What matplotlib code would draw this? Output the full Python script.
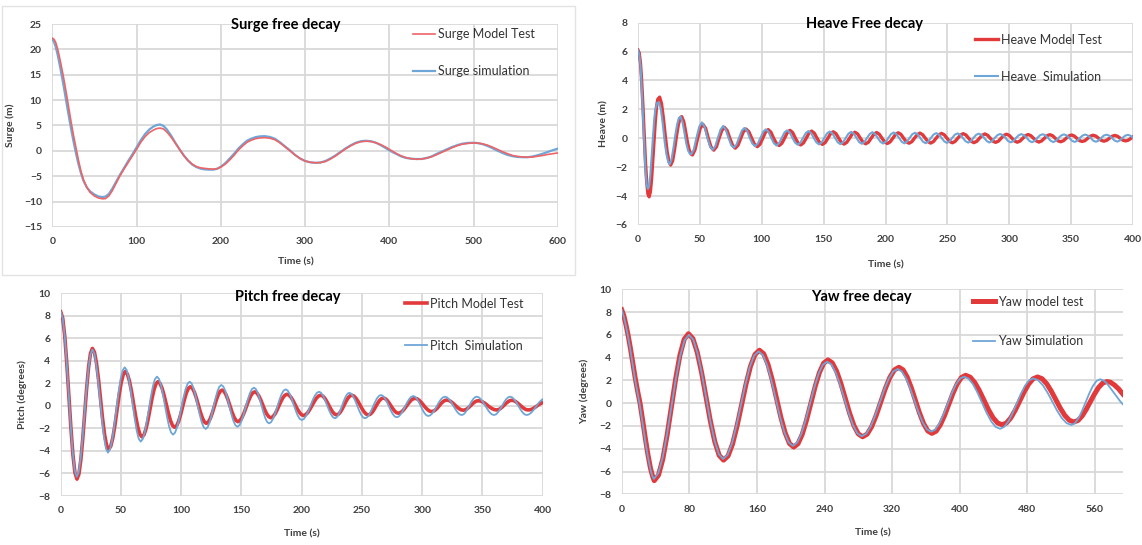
import matplotlib
matplotlib.use("Agg")
import matplotlib.pyplot as plt
from matplotlib.patches import Rectangle

plt.rcParams['font.family'] = ['Lato', 'DejaVu Sans']

# ---------------- DATA ----------------
# Surge free decay (both series sampled at the same times)
surge_t = [0, 2, 4, 6, 8, 10, 13, 16, 19, 22, 25, 28, 31, 34, 37, 41, 45, 50, 55, 60, 63, 67, 71, 75, 80,
           85, 90, 95, 100, 105, 110, 115, 120, 124, 128, 132, 136, 141, 146, 151, 156, 161, 166, 171, 176,
           181, 186, 191, 196, 201, 206, 211, 216, 221, 226, 231, 236, 241, 246, 252, 258, 264, 270, 276, 282,
           288, 294, 300, 306, 312, 318, 324, 330, 336, 342, 348, 354, 360, 366, 372, 378, 384, 390, 396, 402,
           408, 414, 420, 426, 432, 438, 444, 450, 456, 462, 468, 474, 480, 486, 492, 498, 504, 510, 516, 522,
           528, 534, 540, 546, 552, 558, 564, 570, 576, 582, 588, 594, 600]
surge_test_y = [22.2, 22.0, 21.4, 20.3, 18.9, 17.3,
                14.8, 12.0, 9.0, 6.0, 3.2, 0.7, -1.8, -4.0, -5.7,
                -7.2, -8.2, -8.9, -9.3, -9.45, -9.4, -8.9, -7.9, -6.6, -5.0,
                -3.6, -2.3, -1.0, 0.3, 1.7, 2.8, 3.6, 4.1,
                4.4, 4.5, 4.3, 3.7,
                2.7, 1.5, 0.3, -0.9, -1.9, -2.6, -3.1, -3.35, -3.45, -3.55, -3.6, -3.5, -3.1, -2.5, -1.7, -0.8,
                0.2, 1.0, 1.7, 2.1, 2.4, 2.55,
                2.6, 2.5, 2.2, 1.6, 0.8, 0.0, -0.8, -1.5, -2.0, -2.25, -2.35, -2.3, -2.1, -1.6, -1.0, -0.3, 0.4,
                1.0, 1.5, 1.8, 1.9, 1.85, 1.6, 1.2, 0.7, 0.1, -0.5, -1.0, -1.35, -1.55, -1.65, -1.6, -1.45, -1.15,
                -0.75, -0.3, 0.15, 0.6, 1.0, 1.3, 1.45, 1.55, 1.55, 1.4, 1.15, 0.75, 0.3, -0.15, -0.55, -0.9,
                -1.1, -1.2, -1.25, -1.2, -1.05, -0.9, -0.7, -0.55, -0.4]
surge_sim_y = [22.0, 21.5, 20.5, 19.2, 17.6, 15.9,
               13.2, 10.3, 7.4, 4.6, 2.0, -0.4, -2.6, -4.4, -5.9,
               -7.2, -8.0, -8.6, -9.0, -9.1, -9.0, -8.5, -7.5, -6.3, -4.8,
               -3.4, -2.0, -0.7, 0.7, 2.1, 3.3, 4.2, 4.8,
               5.1, 5.2, 4.9, 4.2,
               3.0, 1.6, 0.3, -0.9, -1.9, -2.7, -3.2, -3.5, -3.65, -3.7, -3.7, -3.5, -3.0, -2.3, -1.4, -0.5,
               0.5, 1.3, 2.0, 2.4, 2.7, 2.85,
               2.9, 2.75, 2.4, 1.7, 0.9, 0.1, -0.8, -1.5, -2.0, -2.25, -2.35, -2.3, -2.0, -1.5, -0.9, -0.2, 0.5,
               1.1, 1.6, 1.9, 2.0, 1.9, 1.6, 1.1, 0.5, -0.1, -0.6, -1.1, -1.4, -1.55, -1.6, -1.6, -1.4, -1.1,
               -0.6, -0.15, 0.3, 0.75, 1.1, 1.4, 1.55, 1.6, 1.55, 1.35, 1.0, 0.55, 0.05, -0.4, -0.8,
               -1.05, -1.2, -1.25, -1.25, -1.1, -0.85, -0.55, -0.2, 0.15, 0.45]

# Heave free decay
heave_test_t = [0, 1, 2, 3, 4, 5, 6, 7, 8, 9, 10, 11, 12, 13, 14, 15, 16, 17.5, 19, 20.5, 22, 23.5, 25, 26.4, 28,
                29.5, 31, 32.5, 34, 35.3, 37, 38.5, 40, 41.5, 43, 44, 46, 48.2, 50.3, 52.4, 54.6, 56.8, 59, 61.2,
                63.4, 65.5, 67.7, 69.8, 72, 74.2, 76.4, 78.6,
                80.8, 83.0, 85.1, 87.3, 89.6, 91.9, 94.1, 96.4, 98.6, 100.8, 103.0, 105.2,
                107.4, 109.6, 111.8, 114.0, 116.2, 118.4, 120.6, 122.8, 125.0, 127.2, 129.3, 131.5,
                133.7, 135.9, 138.1, 140.3, 142.5, 144.7, 146.8, 149.0, 151.2, 153.4, 155.6, 157.8,
                160.0, 162.2, 164.3, 166.5, 168.7, 170.9, 173.1, 175.3, 177.5, 179.7, 181.8, 184.0,
                186.2, 188.4, 190.6, 192.8, 195.0, 197.2, 199.3, 201.5, 203.7, 205.9, 208.1, 210.3,
                212.5, 214.7, 216.8, 219.0, 221.2, 223.4, 225.6, 227.8, 230.0, 232.2, 234.3, 236.5,
                238.7, 240.9, 243.1, 245.3, 247.5, 249.7, 251.8, 254.0, 256.2, 258.4, 260.6, 262.8,
                265.0, 267.2, 269.3, 271.5, 273.7, 275.9, 278.1, 280.3, 282.5, 284.7, 286.8, 289.0,
                291.2, 293.4, 295.6, 297.8, 300.0, 302.2, 304.3, 306.5, 308.7, 310.9, 313.1, 315.3,
                317.5, 319.7, 321.8, 324.0, 326.2, 328.4, 330.6, 332.8, 335.0, 337.2, 339.3, 341.5,
                343.7, 345.9, 348.1, 350.3, 352.5, 354.7, 356.8, 359.0, 361.2, 363.4, 365.6, 367.8,
                370.0, 372.2, 374.3, 376.5, 378.7, 380.9, 383.1, 385.3, 387.5, 389.7, 391.8, 394.0,
                396.2, 398.4, 400]
heave_test_y = [6.1, 5.9, 5.2, 3.9, 2.2, 0.3, -1.6, -3.0, -3.85, -4.05, -3.7, -2.8, -1.5, -0.1, 1.2, 2.2, 2.7, 2.85,
                2.4, 1.4, 0.2, -0.9, -1.6, -1.85, -1.55, -0.8, 0.1, 0.9, 1.4, 1.5, 1.15, 0.45, -0.3, -0.85, -1.1,
                -1.15, -0.8, 0.0, 0.7, 0.97, 0.7, 0.0, -0.6, -0.82, -0.58, 0.0, 0.54, 0.76, 0.54, 0.0, -0.48, -0.68,
                -0.48, 0.0, 0.45, 0.64, 0.45, 0.0, -0.41, -0.58, -0.41, 0.0, 0.42, 0.6,
                0.42, 0.0, -0.35, -0.5, -0.35, 0.0, 0.39, 0.55, 0.39, 0.0, -0.32, -0.46,
                -0.32, 0.0, 0.35, 0.5, 0.35, 0.0, -0.3, -0.42, -0.3, 0.0, 0.32, 0.45,
                0.32, 0.0, -0.28, -0.4, -0.28, 0.0, 0.3, 0.42, 0.3, 0.0, -0.27, -0.38,
                -0.27, 0.0, 0.28, 0.4, 0.28, 0.0, -0.25, -0.36, -0.25, 0.0, 0.27, 0.38,
                0.27, 0.0, -0.24, -0.34, -0.24, 0.0, 0.25, 0.36, 0.25, 0.0, -0.23, -0.33,
                -0.23, 0.0, 0.24, 0.34, 0.24, 0.0, -0.22, -0.31, -0.22, 0.0, 0.23, 0.32,
                0.23, 0.0, -0.21, -0.3, -0.21, 0.0, 0.21, 0.3, 0.21, 0.0, -0.2, -0.28,
                -0.2, 0.0, 0.2, 0.28, 0.2, 0.0, -0.19, -0.27, -0.19, 0.0, 0.18, 0.26,
                0.18, 0.0, -0.18, -0.26, -0.18, 0.0, 0.18, 0.25, 0.18, 0.0, -0.17, -0.24,
                -0.17, 0.0, 0.16, 0.23, 0.16, 0.0, -0.16, -0.22, -0.16, 0.0, 0.15, 0.21,
                0.15, 0.0, -0.14, -0.2, -0.14, 0.0, 0.14, 0.2, 0.14, 0.0, -0.13, -0.18,
                -0.13, 0.0, 0.1]
heave_sim_t = [0, 1, 2, 3, 4, 5, 6, 7, 8, 9, 10, 11, 12, 13, 14, 15.5, 17, 18.5, 20, 21.5, 23, 24.5, 25.6, 27, 28.6,
               30.1, 31.6, 33, 34.4, 36, 37.5, 39, 40.5, 42, 43, 45.1, 47.3, 49.5, 51.6, 53.8, 56, 58.2, 60.3, 62.4,
               64.6, 66.7, 68.8, 70.9, 73.1, 75.3, 77.4,
               79.55, 81.7, 83.85, 86.0, 88.15, 90.3, 92.45, 94.6, 96.8, 99.0, 101.15, 103.3,
               105.45, 107.6, 109.75, 111.9, 114.05, 116.2, 118.35, 120.5, 122.65, 124.8, 126.95, 129.1,
               131.25, 133.4, 135.55, 137.7, 139.85, 142.0, 144.15, 146.3, 148.45, 150.6, 152.75, 154.9,
               157.05, 159.2, 161.35, 163.5, 165.7, 167.9, 170.05, 172.2, 174.35, 176.5, 178.65, 180.8,
               182.95, 185.1, 187.25, 189.4, 191.55, 193.7, 195.85, 198.0, 200.15, 202.3, 204.45, 206.6,
               208.75, 210.9, 213.05, 215.2, 217.35, 219.5, 221.65, 223.8, 225.95, 228.1, 230.25, 232.4,
               234.55, 236.7, 238.85, 241.0, 243.15, 245.3, 247.45, 249.6, 251.75, 253.9, 256.05, 258.2,
               260.35, 262.5, 264.65, 266.8, 268.95, 271.1, 273.25, 275.4, 277.55, 279.7, 281.85, 284.0,
               286.15, 288.3, 290.45, 292.6, 294.75, 296.9, 299.05, 301.2, 303.35, 305.5, 307.65, 309.8,
               311.95, 314.1, 316.25, 318.4, 320.55, 322.7, 324.85, 327.0, 329.15, 331.3, 333.45, 335.6,
               337.75, 339.9, 342.05, 344.2, 346.35, 348.5, 350.65, 352.8, 354.95, 357.1, 359.25, 361.4,
               363.55, 365.7, 367.85, 370.0, 372.15, 374.3, 376.45, 378.6, 380.75, 382.9, 385.05, 387.2,
               389.35, 391.5, 393.65, 395.8, 397.9, 400]
heave_sim_y = [6.1, 5.8, 5.0, 3.5, 1.6, -0.4, -2.2, -3.2, -3.5, -3.3, -2.5, -1.3, 0.0, 1.2, 2.0, 2.45, 2.5, 2.0, 1.0,
               -0.2, -1.1, -1.65, -1.8, -1.5, -0.7, 0.2, 0.95, 1.4, 1.5, 1.1, 0.4, -0.35, -0.85, -1.08, -1.1, -0.78,
               0.05, 0.8, 1.1, 0.8, 0.05, -0.56, -0.8, -0.56, 0.05, 0.6, 0.85, 0.6, 0.05, -0.46, -0.65,
               -0.44, 0.03, 0.52, 0.72, 0.52, 0.03, -0.37, -0.55, -0.37, 0.03, 0.45, 0.62,
               0.45, 0.03, -0.33, -0.5, -0.33, 0.03, 0.4, 0.55, 0.4, 0.03, -0.3, -0.45,
               -0.3, 0.03, 0.36, 0.5, 0.36, 0.03, -0.28, -0.42, -0.28, 0.03, 0.34, 0.47,
               0.34, 0.03, -0.27, -0.4, -0.27, 0.03, 0.32, 0.44, 0.32, 0.03, -0.25, -0.38,
               -0.25, 0.03, 0.3, 0.42, 0.3, 0.03, -0.24, -0.36, -0.24, 0.03, 0.29, 0.4,
               0.29, 0.03, -0.23, -0.35, -0.23, 0.03, 0.28, 0.38, 0.28, 0.03, -0.23, -0.34,
               -0.23, 0.03, 0.26, 0.36, 0.26, 0.03, -0.21, -0.32, -0.21, 0.03, 0.25, 0.34,
               0.25, 0.03, -0.2, -0.3, -0.2, 0.03, 0.24, 0.32, 0.24, 0.03, -0.19, -0.29,
               -0.19, 0.03, 0.22, 0.3, 0.22, 0.03, -0.19, -0.28, -0.19, 0.03, 0.21, 0.29,
               0.21, 0.03, -0.18, -0.27, -0.18, 0.03, 0.21, 0.28, 0.21, 0.03, -0.17, -0.26,
               -0.17, 0.03, 0.2, 0.27, 0.2, 0.03, -0.17, -0.25, -0.17, 0.03, 0.19, 0.26,
               0.19, 0.03, -0.16, -0.24, -0.16, 0.03, 0.19, 0.25, 0.19, 0.03, -0.15, -0.23,
               -0.15, 0.03, 0.18, 0.24, 0.18, 0.03]

# Pitch free decay
pitch_test_t = [0, 1.69, 3.38, 5.06, 6.75, 8.44, 10.13, 11.81,
                13.5, 15.1, 16.7, 18.3, 19.9, 21.5, 23.1, 24.7,
                26.3, 28.0, 29.7, 31.4, 33.05, 34.7, 36.4, 38.1,
                39.8, 41.5, 43.25, 45.0, 46.7, 48.4, 50.15, 51.9,
                53.6, 55.34, 57.08, 58.81, 60.55, 62.29, 64.03, 65.76,
                67.5, 69.15, 70.8, 72.45, 74.1, 75.75, 77.4, 79.05,
                80.7, 82.44, 84.18, 85.91, 87.65, 89.39, 91.13, 92.86,
                94.6, 96.23, 97.85, 99.48, 101.1, 102.73, 104.35, 105.98,
                107.6, 109.26, 110.93, 112.59, 114.25, 115.91, 117.58, 119.24,
                120.9, 122.53, 124.15, 125.78, 127.4, 129.03, 130.65, 132.28,
                133.9, 135.55, 137.2, 138.85, 140.5, 142.15, 143.8, 145.45,
                147.1, 148.84, 150.58, 152.31, 154.05, 155.79, 157.53, 159.26,
                161, 162.66, 164.33, 165.99, 167.65, 169.31, 170.98, 172.64,
                174.3, 175.99, 177.68, 179.36, 181.05, 182.74, 184.43, 186.11,
                187.8, 189.51, 191.23, 192.94, 194.65, 196.36, 198.08, 199.79,
                201.5, 203.29, 205.08, 206.86, 208.65, 210.44, 212.23, 214.01,
                215.8, 217.45, 219.1, 220.75, 222.4, 224.05, 225.7, 227.35,
                229, 230.56, 232.13, 233.69, 235.25, 236.81, 238.38, 239.94,
                241.5, 243.23, 244.95, 246.68, 248.4, 250.13, 251.85, 253.58,
                255.3, 256.85, 258.4, 259.95, 261.5, 263.05, 264.6, 266.15,
                267.7, 269.26, 270.83, 272.39, 273.95, 275.51, 277.08, 278.64,
                280.2, 281.93, 283.65, 285.38, 287.1, 288.83, 290.55, 292.28,
                294, 295.74, 297.48, 299.21, 300.95, 302.69, 304.43, 306.16,
                307.9, 309.45, 311.0, 312.55, 314.1, 315.65, 317.2, 318.75,
                320.3, 322.03, 323.75, 325.48, 327.2, 328.93, 330.65, 332.38,
                334.1, 335.66, 337.23, 338.79, 340.35, 341.91, 343.48, 345.04,
                346.6, 348.5, 350.4, 352.3, 354.2, 356.1, 358.0, 359.9,
                361.8, 363.36, 364.93, 366.49, 368.05, 369.61, 371.18, 372.74,
                374.3, 376.01, 377.73, 379.44, 381.15, 382.86, 384.58, 386.29,
                388, 390, 392, 394, 396, 398, 400]
pitch_test_y = [8.35, 7.79, 6.18, 3.77, 0.93, -1.91, -4.32, -5.93,
                -6.5, -6.06, -4.8, -2.92, -0.7, 1.52, 3.4, 4.66,
                5.1, 4.77, 3.8, 2.34, 0.63, -1.09, -2.54, -3.51,
                -3.85, -3.59, -2.84, -1.72, -0.4, 0.92, 2.04, 2.79,
                3.05, 2.83, 2.20, 1.26, 0.15, -0.96, -1.90, -2.53,
                -2.75, -2.56, -2.03, -1.24, -0.3, 0.64, 1.43, 1.96,
                2.15, 1.99, 1.56, 0.90, 0.13, -0.65, -1.31, -1.75,
                -1.9, -1.76, -1.37, -0.79, -0.1, 0.59, 1.17, 1.56,
                1.7, 1.58, 1.22, 0.70, 0.08, -0.55, -1.07, -1.43,
                -1.55, -1.44, -1.12, -0.64, -0.08, 0.49, 0.97, 1.29,
                1.4, 1.29, 0.99, 0.54, 0.0, -0.54, -0.99, -1.29,
                -1.4, -1.30, -1.01, -0.58, -0.08, 0.43, 0.86, 1.15,
                1.25, 1.16, 0.91, 0.54, 0.1, -0.34, -0.71, -0.96,
                -1.05, -0.97, -0.75, -0.41, -0.01, 0.39, 0.73, 0.95,
                1.03, 0.96, 0.75, 0.45, 0.09, -0.27, -0.57, -0.78,
                -0.85, -0.78, -0.59, -0.29, 0.05, 0.39, 0.69, 0.88,
                0.95, 0.88, 0.69, 0.41, 0.08, -0.26, -0.54, -0.73,
                -0.8, -0.73, -0.54, -0.26, 0.08, 0.41, 0.69, 0.88,
                0.95, 0.88, 0.69, 0.41, 0.08, -0.26, -0.54, -0.73,
                -0.8, -0.74, -0.58, -0.34, -0.05, 0.24, 0.48, 0.64,
                0.7, 0.65, 0.50, 0.28, 0.03, -0.23, -0.45, -0.6,
                -0.65, -0.6, -0.46, -0.24, 0.01, 0.26, 0.48, 0.62,
                0.67, 0.63, 0.50, 0.31, 0.09, -0.14, -0.33, -0.46,
                -0.5, -0.46, -0.35, -0.19, 0.01, 0.21, 0.37, 0.48,
                0.52, 0.49, 0.39, 0.24, 0.07, -0.10, -0.25, -0.35,
                -0.38, -0.35, -0.26, -0.12, 0.04, 0.2, 0.34, 0.43,
                0.46, 0.43, 0.34, 0.21, 0.05, -0.11, -0.24, -0.33,
                -0.36, -0.33, -0.23, -0.09, 0.07, 0.23, 0.37, 0.47,
                0.5, 0.47, 0.37, 0.23, 0.07, -0.09, -0.23, -0.33,
                -0.36, -0.33, -0.24, -0.1, 0.06, 0.2, 0.3]
pitch_sim_t = [0, 1.66, 3.33, 4.99, 6.65, 8.31, 9.98, 11.64,
               13.3, 14.9, 16.55, 18.2, 19.8, 21.4, 23.05, 24.7,
               26.3, 27.9, 29.5, 31.1, 32.75, 34.4, 36.0, 37.6,
               39.2, 40.9, 42.7, 44.4, 46.15, 47.9, 49.6, 51.4,
               53.1, 54.76, 56.43, 58.09, 59.75, 61.41, 63.08, 64.74,
               66.4, 68.09, 69.78, 71.46, 73.15, 74.84, 76.53, 78.21,
               79.9, 81.56, 83.23, 84.89, 86.55, 88.21, 89.88, 91.54,
               93.2, 94.93, 96.65, 98.38, 100.1, 101.83, 103.55, 105.28,
               107, 108.66, 110.33, 111.99, 113.65, 115.31, 116.98, 118.64,
               120.3, 121.93, 123.55, 125.18, 126.8, 128.43, 130.05, 131.68,
               133.3, 134.96, 136.63, 138.29, 139.95, 141.61, 143.28, 144.94,
               146.6, 148.33, 150.05, 151.78, 153.5, 155.23, 156.95, 158.68,
               160.4, 161.96, 163.53, 165.09, 166.65, 168.21, 169.78, 171.34,
               172.9, 174.63, 176.35, 178.08, 179.8, 181.53, 183.25, 184.98,
               186.7, 188.36, 190.03, 191.69, 193.35, 195.01, 196.68, 198.34,
               200, 201.8, 203.6, 205.4, 207.2, 209.0, 210.8, 212.6,
               214.4, 216.05, 217.7, 219.35, 221.0, 222.65, 224.3, 225.95,
               227.6, 229.09, 230.58, 232.06, 233.55, 235.04, 236.53, 238.01,
               239.5, 241.13, 242.75, 244.38, 246.0, 247.63, 249.25, 250.88,
               252.5, 254.16, 255.83, 257.49, 259.15, 260.81, 262.48, 264.14,
               265.8, 267.43, 269.05, 270.68, 272.3, 273.93, 275.55, 277.18,
               278.8, 280.53, 282.25, 283.98, 285.7, 287.43, 289.15, 290.88,
               292.6, 294.15, 295.7, 297.25, 298.8, 300.35, 301.9, 303.45,
               305, 306.74, 308.48, 310.21, 311.95, 313.69, 315.43, 317.16,
               318.9, 320.64, 322.38, 324.11, 325.85, 327.59, 329.33, 331.06,
               332.8, 334.35, 335.9, 337.45, 339.0, 340.55, 342.1, 343.65,
               345.2, 347.0, 348.8, 350.6, 352.4, 354.2, 356.0, 357.8,
               359.6, 361.26, 362.93, 364.59, 366.25, 367.91, 369.58, 371.24,
               372.9, 374.63, 376.35, 378.08, 379.8, 381.53, 383.25, 384.98,
               386.7, 388.5, 390.5, 392.5, 394.5, 396.5, 398.3, 400]
pitch_sim_y = [8.35, 7.8, 6.21, 3.84, 1.03, -1.78, -4.15, -5.74,
               -6.3, -5.87, -4.64, -2.81, -0.65, 1.51, 3.34, 4.57,
               5.0, 4.66, 3.67, 2.18, 0.43, -1.32, -2.81, -3.8,
               -4.15, -3.86, -3.04, -1.81, -0.36, 1.09, 2.32, 3.14,
               3.43, 3.18, 2.46, 1.39, 0.13, -1.13, -2.20, -2.92,
               -3.17, -2.95, -2.32, -1.39, -0.29, 0.82, 1.75, 2.38,
               2.6, 2.40, 1.85, 1.01, 0.03, -0.96, -1.80, -2.35,
               -2.55, -2.37, -1.86, -1.10, -0.2, 0.70, 1.46, 1.97,
               2.15, 1.99, 1.53, 0.85, 0.05, -0.75, -1.43, -1.89,
               -2.05, -1.90, -1.48, -0.84, -0.1, 0.65, 1.29, 1.71,
               1.86, 1.72, 1.32, 0.71, 0.0, -0.71, -1.31, -1.71,
               -1.85, -1.72, -1.34, -0.78, -0.12, 0.55, 1.11, 1.49,
               1.62, 1.50, 1.16, 0.64, 0.04, -0.57, -1.09, -1.43,
               -1.55, -1.44, -1.11, -0.62, -0.04, 0.54, 1.03, 1.36,
               1.47, 1.37, 1.07, 0.63, 0.11, -0.41, -0.85, -1.15,
               -1.25, -1.16, -0.88, -0.48, 0.01, 0.49, 0.89, 1.16,
               1.26, 1.17, 0.91, 0.53, 0.08, -0.37, -0.75, -1.01,
               -1.1, -1.01, -0.77, -0.40, 0.04, 0.47, 0.84, 1.08,
               1.17, 1.08, 0.84, 0.47, 0.04, -0.40, -0.77, -1.01,
               -1.1, -1.02, -0.80, -0.46, -0.07, 0.33, 0.67, 0.89,
               0.97, 0.89, 0.68, 0.36, -0.02, -0.40, -0.72, -0.93,
               -1.01, -0.94, -0.73, -0.43, -0.07, 0.30, 0.60, 0.81,
               0.88, 0.81, 0.62, 0.33, -0.01, -0.35, -0.64, -0.83,
               -0.9, -0.83, -0.65, -0.37, -0.04, 0.29, 0.57, 0.75,
               0.82, 0.76, 0.58, 0.32, 0.0, -0.31, -0.57, -0.75,
               -0.81, -0.75, -0.57, -0.31, 0.0, 0.32, 0.58, 0.76,
               0.82, 0.76, 0.58, 0.32, 0.0, -0.31, -0.57, -0.75,
               -0.81, -0.75, -0.57, -0.31, 0.0, 0.32, 0.58, 0.76,
               0.82, 0.76, 0.58, 0.32, 0.0, -0.31, -0.57, -0.75,
               -0.81, -0.76, -0.6, -0.35, -0.05, 0.25, 0.45, 0.6]

# Yaw free decay
yaw_test_t = [0, 2.5, 5, 7.5, 10, 13, 16, 19, 21.7, 25, 28, 31, 34, 36.5,
              38.5, 43.56, 48.63, 53.69, 58.75, 63.81, 68.88, 73.94,
              79, 84.19, 89.38, 94.56, 99.75, 104.94, 110.13, 115.31,
              120.5, 125.81, 131.13, 136.44, 141.75, 147.06, 152.38, 157.69,
              163, 168.06, 173.13, 178.19, 183.25, 188.31, 193.38, 198.44,
              203.5, 208.56, 213.63, 218.69, 223.75, 228.81, 233.88, 238.94,
              244, 249.13, 254.25, 259.38, 264.5, 269.63, 274.75, 279.88,
              285, 290.38, 295.75, 301.13, 306.5, 311.88, 317.25, 322.63,
              328, 332.88, 337.75, 342.63, 347.5, 352.38, 357.25, 362.13,
              367, 372, 377, 382, 387, 392, 397, 402,
              407, 412.38, 417.75, 423.13, 428.5, 433.88, 439.25, 444.63,
              450, 455.25, 460.5, 465.75, 471, 476.25, 481.5, 486.75,
              492, 497.38, 502.75, 508.13, 513.5, 518.88, 524.25, 529.63,
              535, 539.88, 544.75, 549.63, 554.5, 559.38, 564.25, 569.13,
              574, 578, 583, 588, 593]
yaw_test_y = [8.2, 7.7, 6.9, 6.0, 4.95, 3.6, 2.2, 1.0, 0.0, -1.6, -3.1, -4.5, -5.7, -6.4,
              -6.8, -6.31, -4.91, -2.82, -0.35, 2.12, 4.21, 5.61,
              6.1, 5.68, 4.47, 2.68, 0.55, -1.58, -3.37, -4.58,
              -5.0, -4.63, -3.59, -2.02, -0.18, 1.67, 3.24, 4.28,
              4.65, 4.33, 3.40, 2.03, 0.4, -1.23, -2.60, -3.53,
              -3.85, -3.56, -2.73, -1.49, -0.03, 1.44, 2.68, 3.51,
              3.8, 3.54, 2.81, 1.72, 0.43, -0.87, -1.96, -2.69,
              -2.95, -2.72, -2.06, -1.07, 0.1, 1.27, 2.26, 2.92,
              3.15, 2.93, 2.30, 1.36, 0.25, -0.86, -1.80, -2.43,
              -2.65, -2.46, -1.90, -1.08, -0.1, 0.88, 1.70, 2.26,
              2.45, 2.28, 1.81, 1.11, 0.28, -0.56, -1.26, -1.73,
              -1.9, -1.74, -1.28, -0.60, 0.2, 1.0, 1.68, 2.14,
              2.3, 2.15, 1.72, 1.08, 0.33, -0.43, -1.07, -1.50,
              -1.65, -1.52, -1.13, -0.55, 0.13, 0.80, 1.38, 1.77,
              1.9, 1.85, 1.6, 1.25, 0.8]
yaw_sim_t = [0, 2.5, 5, 7.5, 10, 13, 16, 19, 21.3, 25, 28, 31, 34, 36,
             38, 43.19, 48.38, 53.56, 58.75, 63.94, 69.13, 74.31,
             79.5, 84.56, 89.63, 94.69, 99.75, 104.81, 109.88, 114.94,
             120, 125.25, 130.5, 135.75, 141, 146.25, 151.5, 156.75,
             162, 167.06, 172.13, 177.19, 182.25, 187.31, 192.38, 197.44,
             202.5, 207.56, 212.63, 217.69, 222.75, 227.81, 232.88, 237.94,
             243, 248.13, 253.25, 258.38, 263.5, 268.63, 273.75, 278.88,
             284, 289.31, 294.63, 299.94, 305.25, 310.56, 315.88, 321.19,
             326.5, 331.44, 336.38, 341.31, 346.25, 351.19, 356.13, 361.06,
             366, 370.88, 375.75, 380.63, 385.5, 390.38, 395.25, 400.13,
             405, 410.34, 415.68, 421.01, 426.35, 431.69, 437.03, 442.36,
             447.7, 452.61, 457.53, 462.44, 467.35, 472.26, 477.18, 482.09,
             487, 492.63, 498.25, 503.88, 509.5, 515.13, 520.75, 526.38,
             532, 536.25, 540.5, 544.75, 549, 553.25, 557.5, 561.75,
             566, 570, 574, 578, 582, 586, 589.5, 593]
yaw_sim_y = [8.2, 7.6, 6.8, 5.85, 4.8, 3.4, 2.0, 0.8, -0.1, -1.9, -3.4, -4.7, -5.8, -6.35,
             -6.65, -6.17, -4.80, -2.75, -0.33, 2.10, 4.15, 5.52,
             6.0, 5.59, 4.40, 2.64, 0.55, -1.54, -3.30, -4.49,
             -4.9, -4.54, -3.52, -1.98, -0.18, 1.63, 3.17, 4.19,
             4.55, 4.23, 3.33, 1.99, 0.4, -1.19, -2.53, -3.43,
             -3.75, -3.47, -2.67, -1.47, -0.05, 1.37, 2.57, 3.37,
             3.65, 3.40, 2.69, 1.63, 0.38, -0.88, -1.94, -2.65,
             -2.9, -2.68, -2.04, -1.08, 0.05, 1.18, 2.14, 2.78,
             3.0, 2.79, 2.19, 1.30, 0.25, -0.80, -1.69, -2.29,
             -2.5, -2.32, -1.79, -1.01, -0.09, 0.84, 1.62, 2.15,
             2.33, 2.16, 1.66, 0.92, 0.04, -0.84, -1.58, -2.08,
             -2.25, -2.08, -1.60, -0.88, -0.04, 0.81, 1.53, 2.01,
             2.18, 2.02, 1.58, 0.92, 0.14, -0.65, -1.31, -1.75,
             -1.91, -1.76, -1.32, -0.67, 0.10, 0.86, 1.51, 1.95,
             2.1, 2.0, 1.75, 1.35, 0.95, 0.55, 0.2, -0.1]

panel_titles = ["Surge free decay", "Heave Free decay", "Pitch free decay", "Yaw free decay"]
panel_ylabels = ["Surge (m)", "Heave (m)", "Pitch (degrees)", "Yaw (degrees)"]
legend_labels = [["Surge Model Test", "Surge simulation"],
                 ["Heave Model Test", "Heave  Simulation"],
                 ["Pitch Model Test", "Pitch  Simulation"],
                 ["Yaw model test", "Yaw Simulation"]]
xlabel_text = "Time (s)"

# ---------------- STYLE ----------------
RED = "#E2393B"
RED_LIGHT = "#EE6466"
BLUE = "#6FA6D8"
GRID = "#D9D9D9"
TICKC = "#3F3F3F"

W, H = 1142, 545
fig = plt.figure(figsize=(W / 100, H / 100), dpi=100)


def px_axes(l, t, r, b):
    return fig.add_axes([l / W, 1 - b / H, (r - l) / W, (b - t) / H])


# panel 1 border
fig.patches.append(Rectangle((2 / W, 1 - 275 / H), 573 / W, 269 / H, transform=fig.transFigure,
                             fill=False, edgecolor="#E3E3E3", lw=1.0))

axes_px = [(52.3, 24, 558, 227), (638, 22.7, 1133, 225), (60.7, 293.3, 542.7, 496), (621.7, 289.3, 1123.3, 494.3)]
xlims = [(0, 600), (0, 400), (0, 400), (0, 593.5)]
xticks = [range(0, 601, 100), range(0, 401, 50), range(0, 401, 50), range(0, 561, 80)]
ylims = [(-15, 25), (-6, 8), (-8, 10), (-8, 10)]
yticks = [range(-15, 26, 5), range(-6, 9, 2), range(-8, 11, 2), range(-8, 11, 2)]
title_pos = [(0.462, 0.995), (0.458, 0.995), (0.471, 0.98), (0.478, 0.961)]
ylabel_x = [-0.074, -0.06, -0.0705, -0.0646]
xlabel_pos = [(0.481, -0.148), (0.5, -0.173), (0.5, -0.167), (0.5, -0.166)]
legend_anchor = [(0.713, 0.86), (0.681, 0.824), (0.714, 0.845), (0.70, 0.844)]
legend_spacing = [2.0, 2.0, 2.4, 2.2]

series = [
    (surge_t, surge_test_y, RED_LIGHT, 1.2, surge_t, surge_sim_y, BLUE, 1.6),
    (heave_test_t, heave_test_y, RED, 2.4, heave_sim_t, heave_sim_y, BLUE, 1.5),
    (pitch_test_t, pitch_test_y, RED, 2.6, pitch_sim_t, pitch_sim_y, BLUE, 1.3),
    (yaw_test_t, yaw_test_y, RED, 3.6, yaw_sim_t, yaw_sim_y, BLUE, 1.3),
]

for i in range(4):
    ax = px_axes(*axes_px[i])
    tt, ty, tc, tw, st, sy, sc, sw = series[i]
    if i == 0:
        l2, = ax.plot(st, sy, color=sc, lw=sw, zorder=3)
        l1, = ax.plot(tt, ty, color=tc, lw=tw, zorder=4)
    else:
        l1, = ax.plot(tt, ty, color=tc, lw=tw, zorder=3, solid_joinstyle='round')
        l2, = ax.plot(st, sy, color=sc, lw=sw, zorder=4, solid_joinstyle='round')
    ax.set_xlim(*xlims[i])
    ax.set_ylim(*ylims[i])
    ax.set_xticks(list(xticks[i]))
    ax.set_yticks(list(yticks[i]))
    ax.grid(True, color=GRID, lw=1.3)
    ax.set_axisbelow(True)
    for s in ax.spines.values():
        s.set_visible(False)
    ax.tick_params(length=0, labelsize=7.5, labelcolor=TICKC, pad=7.5)
    for lab in ax.get_xticklabels() + ax.get_yticklabels():
        lab.set_fontweight('bold')
    ax.text(title_pos[i][0], title_pos[i][1], panel_titles[i], transform=ax.transAxes, ha='center', va='center',
            fontsize=10.5, fontweight='bold', color='black', zorder=6)
    ax.set_ylabel(panel_ylabels[i], fontsize=7.5, fontweight='bold', color=TICKC)
    ax.yaxis.set_label_coords(ylabel_x[i], 0.5)
    ax.set_xlabel(xlabel_text, fontsize=7.5, fontweight='bold', color=TICKC)
    ax.xaxis.set_label_coords(*xlabel_pos[i])
    leg = ax.legend([l1, l2], legend_labels[i], loc='center left', bbox_to_anchor=legend_anchor[i],
                    frameon=False, fontsize=9, handlelength=1.8, handletextpad=0.25, borderpad=0,
                    borderaxespad=0, labelspacing=legend_spacing[i])
    for txt in leg.get_texts():
        txt.set_color('#333333')
    leg.set_zorder(7)

fig.savefig("out.png", dpi=100)
